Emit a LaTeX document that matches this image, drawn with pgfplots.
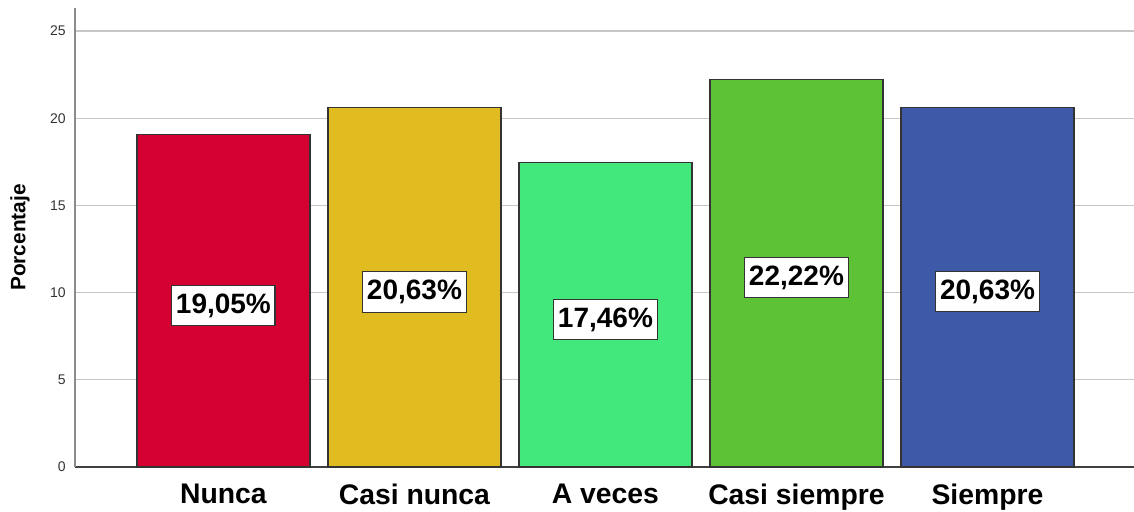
\documentclass[border=0pt]{standalone}
\usepackage{pgfplots}
\pgfplotsset{compat=1.18}
\usepackage{fontspec}
\setmainfont{Liberation Sans}
\definecolor{cRed}{HTML}{D50032}
\definecolor{cYel}{HTML}{E0BC20}
\definecolor{cLGr}{HTML}{42E87C}
\definecolor{cGrn}{HTML}{5EC236}
\definecolor{cBlu}{HTML}{3D59A7}
\definecolor{cEdge}{HTML}{333333}
\begin{document}
\begin{tikzpicture}
\begin{axis}[
  at={(0,0)}, anchor=south west,
  scale only axis,
  width=635.4pt, height=275.4pt,
  xmin=-0.777, xmax=4.767,
  ymin=0, ymax=26.32,
  axis x line=bottom, axis y line=left,
  axis line style={-},
  x axis line style={draw=black!75, line width=0.9pt},
  y axis line style={draw=black!45, line width=0.8pt},
  xtick={0,1,2,3,4},
  xticklabels={Nunca,Casi nunca,A veces,Casi siempre,Siempre},
  ytick={0,5,10,15,20,25},
  major tick length=0pt,
  ymajorgrids,
  grid style={draw=black!22, line width=0.7pt},
  /pgf/number format/assume math mode=true,
  yticklabel style={font=\fontsize{8.4}{10}\selectfont, text=black!80, xshift=-2pt},
  xticklabel style={font=\bfseries\fontsize{17}{20}\selectfont, yshift=-6.5pt},
  ylabel={Porcentaje},
  every axis y label/.style={at={(axis description cs:-0.0519,0.5)}, rotate=90, anchor=center, font=\bfseries\fontsize{12.5}{14}\selectfont},
  clip=false,
]
\addplot[ybar, bar width=0.906, fill=cRed, draw=cEdge, line width=0.8pt] coordinates {(0,19.05)};
\addplot[ybar, bar width=0.906, fill=cYel, draw=cEdge, line width=0.8pt] coordinates {(1,20.63)};
\addplot[ybar, bar width=0.906, fill=cLGr, draw=cEdge, line width=0.8pt] coordinates {(2,17.46)};
\addplot[ybar, bar width=0.906, fill=cGrn, draw=cEdge, line width=0.8pt] coordinates {(3,22.22)};
\addplot[ybar, bar width=0.906, fill=cBlu, draw=cEdge, line width=0.8pt] coordinates {(4,20.63)};
\addplot[draw=none, mark=none, nodes near coords, point meta=explicit symbolic,
  every node near coord/.append style={anchor=center, fill=white, draw=cEdge, line width=0.7pt,
    font=\bfseries\fontsize{16.8}{20}\selectfont, inner xsep=2.5pt, inner ysep=5pt}]
  coordinates {(0,9.26) [19,05\%] (1,10.03) [20,63\%] (2,8.46) [17,46\%] (3,10.87) [22,22\%] (4,10.06) [20,63\%]};
\end{axis}
\pgfresetboundingbox
\path (-45pt,-27pt) rectangle (635.4pt,280.2pt);
\end{tikzpicture}
\end{document}
